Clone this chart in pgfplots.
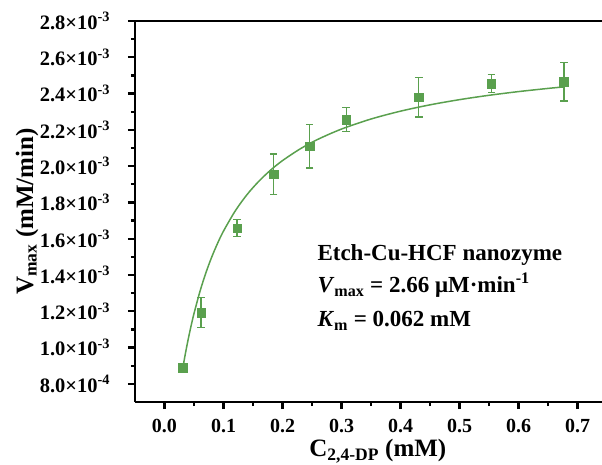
\documentclass[border=0pt]{standalone}
\usepackage{fontspec}
\setmainfont{Liberation Serif}
\usepackage{pgfplots}
\pgfplotsset{compat=1.18}
\definecolor{mygreen}{RGB}{90,160,78}
\newcommand{\sx}[2]{#1×10\textsuperscript{#2}}
\begin{document}
\fontsize{20bp}{24bp}\selectfont\bfseries
\begin{tikzpicture}
\begin{axis}[
  scale only axis,
  width=467bp, height=381bp,
  xmin=-0.05, xmax=0.7415,
  ymin=0.7, ymax=2.8,
  axis x line=box, axis y line=left,
  axis line style={-, line width=2.2bp},
  xtick pos=bottom, ytick pos=left,
  tick align=outside,
  major tick length=7bp, minor tick length=4bp,
  every tick/.style={line width=2.2bp, black},
  xtick={0,0.1,...,0.7},
  minor xtick={0.05,0.15,...,0.75},
  xticklabels={0.0,0.1,0.2,0.3,0.4,0.5,0.6,0.7},
  ytick={0.8,1.0,...,2.8},
  minor ytick={0.9,1.1,...,2.7},
  yticklabels={\sx{8.0}{-4},\sx{1.0}{-3},\sx{1.2}{-3},\sx{1.4}{-3},\sx{1.6}{-3},\sx{1.8}{-3},\sx{2.0}{-3},\sx{2.2}{-3},\sx{2.4}{-3},\sx{2.6}{-3},\sx{2.8}{-3}},
  xticklabel style={font=\fontsize{20bp}{22bp}\selectfont\bfseries, yshift=-3bp},
  yticklabel style={font=\fontsize{20.5bp}{24bp}\selectfont\bfseries, xshift=-11bp},
  xlabel={C\textsubscript{2,4-DP} (mM)},
  ylabel={V\textsubscript{max} (mM/min)},
  label style={font=\fontsize{25bp}{28bp}\selectfont\bfseries},
  xlabel style={at={(axis description cs:0.52,0)}, anchor=center, yshift=-49bp},
  ylabel style={at={(axis description cs:0,0.5)}, anchor=center, yshift=108bp},
  clip=false,
]
\addplot[mygreen, line width=1.5bp, smooth] coordinates {
(0.03,0.8674)(0.035,0.9598)(0.04,1.0431)(0.045,1.1187)(0.05,1.1875)
(0.06,1.3082)(0.07,1.4106)(0.08,1.4986)(0.09,1.5750)(0.10,1.6420)
(0.12,1.7538)(0.14,1.8436)(0.16,1.9171)(0.18,1.9785)(0.20,2.0305)
(0.23,2.0952)(0.26,2.1478)(0.30,2.2044)(0.35,2.2597)(0.40,2.3030)
(0.45,2.3379)(0.50,2.3665)(0.55,2.3905)(0.60,2.4109)(0.65,2.4284)(0.677,2.4368)
};
\addplot[mygreen, only marks, mark=square*, mark size=4.3bp,
  error bars/.cd, y dir=both, y explicit,
  error bar style={line width=1.4bp, mygreen},
  error mark options={rotate=90, mygreen, mark size=3.8bp, line width=1.4bp}]
coordinates {
(0.031,0.888) +- (0,0.0)
(0.062,1.192) +- (0,0.083)
(0.123,1.658) +- (0,0.047)
(0.185,1.955) +- (0,0.112)
(0.246,2.109) +- (0,0.120)
(0.308,2.257) +- (0,0.065)
(0.431,2.380) +- (0,0.110)
(0.554,2.455) +- (0,0.050)
(0.677,2.465) +- (0,0.105)
};
\node[anchor=base west, inner sep=0pt, font=\fontsize{23bp}{28bp}\selectfont\bfseries]
  at (axis cs:0.259,1.480) {Etch-Cu-HCF nanozyme};
\node[anchor=base west, inner sep=0pt, font=\fontsize{23bp}{28bp}\selectfont\bfseries]
  at (axis cs:0.259,1.304) {\textit{V}\textsubscript{max} = 2.66 μM·min\textsuperscript{-1}};
\node[anchor=base west, inner sep=0pt, font=\fontsize{23bp}{28bp}\selectfont\bfseries]
  at (axis cs:0.259,1.117) {\textit{K}\textsubscript{m} = 0.062 mM};
\end{axis}
\pgfresetboundingbox
\path (current axis.south west) ++(-135bp,-63bp) rectangle ++(602bp,465bp);
\end{tikzpicture}
\end{document}
